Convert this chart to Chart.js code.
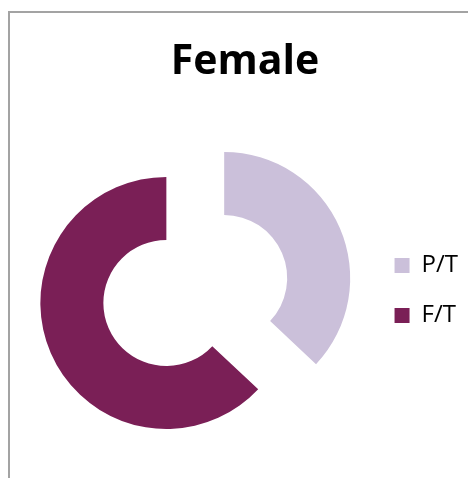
<!DOCTYPE html>
<html>
<head>
<meta charset="utf-8">
<script src="https://cdn.jsdelivr.net/npm/chart.js@4"></script>
<style>
  html, body { margin: 0; padding: 0; background: #fff; overflow: hidden; width: 468px; height: 478px; }
  #frame { position: absolute; left: 8px; top: 11px; width: 600px; height: 600px;
           border-left: 2px solid #a3a3a3; border-top: 2px solid #a3a3a3; }
  #femaleChart { position: absolute; left: 0; top: 0; }
</style>
</head>
<body>
<div id="frame"></div>
<canvas id="femaleChart" width="468" height="478"></canvas>
<script>
const categories = ['P/T', 'F/T'];
const femaleShare = [37, 63];
const sliceColors = ['#cbc0da', '#7a1f56'];
const chartTitle = 'Female';

// pull every slice out from the centre along its own mid angle
const explodePlugin = {
  id: 'explode',
  afterDatasetUpdate(chart, args) {
    const dist = 31.5;
    args.meta.data.forEach(arc => {
      const mid = (arc.startAngle + arc.endAngle) / 2;
      arc.x += Math.cos(mid) * dist;
      arc.y += Math.sin(mid) * dist;
    });
  },
  // keep the legend centred on the plot, not on the whole canvas
  afterLayout(chart) {
    if (chart.legend) chart.legend.top = chart.chartArea.top;
  }
};

const initChart = () => {
  const ctx = document.getElementById('femaleChart').getContext('2d');
  new Chart(ctx, {
    type: 'doughnut',
    data: {
      labels: categories,
      datasets: [{
        data: femaleShare,
        backgroundColor: sliceColors,
        borderWidth: 0
      }]
    },
    options: {
      responsive: false,
      animation: false,
      events: [],
      radius: 126,
      cutout: '50%',
      layout: { padding: { left: 22, right: 0, top: 0, bottom: 0 } },
      plugins: {
        title: {
          display: true,
          text: chartTitle,
          color: '#000',
          font: { family: 'Open Sans', size: 41, weight: 'bold' },
          padding: { top: 38, bottom: 15.8 }
        },
        legend: {
          position: 'right',
          labels: {
            boxWidth: 15,
            boxHeight: 15,
            padding: 26,
            color: '#000',
            font: { family: 'Open Sans', size: 24 }
          }
        },
        tooltip: { enabled: false }
      }
    },
    plugins: [explodePlugin]
  });
};

document.addEventListener('DOMContentLoaded', initChart);
</script>
</body>
</html>
